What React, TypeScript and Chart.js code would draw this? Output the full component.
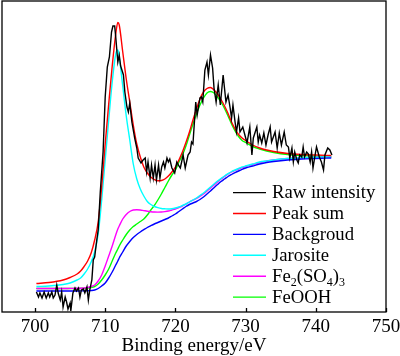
import React, { useEffect, useRef } from "react";
import { Chart, registerables } from "chart.js";

Chart.register(...registerables);

// ---------- data ----------
const xTickValues = [700, 710, 720, 730, 740, 750];
const xAxisTitle = "Binding energy/eV";
const seriesNames = ["Raw intensity", "Peak sum", "Backgroud", "Jarosite", "Fe₂(SO₄)₃", "FeOOH"];

const rawEnergy = [
  700.2, 700.5, 700.7, 701.0, 701.3, 701.6, 701.9, 702.1, 702.4, 702.6, 702.85, 703.1, 703.3, 703.6, 703.8,
  704.0, 704.3, 704.5, 704.7, 705.0, 705.1, 705.4, 705.7, 705.9, 706.2, 706.4, 706.6, 706.9, 707.1, 707.4,
  707.6, 707.8, 708.1, 708.3, 708.5, 708.8, 709.0, 709.3, 709.7, 710.0, 710.3, 710.6, 710.9, 711.1, 711.35,
  711.5, 711.8, 712.0, 712.2, 712.6, 712.8, 713.1, 713.3, 713.5, 713.8, 714.2, 714.5, 714.7, 715.1, 715.4,
  715.7, 715.9, 716.1, 716.4, 716.6, 716.85, 717.1, 717.3, 717.6, 717.8, 718.05, 718.3, 718.5, 718.8, 719.0,
  719.2, 719.5, 719.9, 720.2, 720.5, 720.7, 721.1, 721.4, 721.8, 722.1, 722.3, 722.5, 722.9, 723.1, 723.5,
  723.7, 723.9, 724.2, 724.5, 724.7, 725.0, 725.3, 725.5, 725.8, 726.1, 726.4, 726.8, 727.2, 727.5, 727.8,
  728.0, 728.2, 728.5, 728.7, 729.0, 729.2, 729.6, 729.9, 730.2, 730.6, 730.9, 731.1, 731.6, 731.8, 732.0,
  732.3, 732.6, 732.9, 733.2, 733.5, 733.7, 734.2, 734.5, 734.8, 735.1, 735.5, 735.8, 736.1, 736.3, 736.6,
  736.8, 737.0, 737.3, 737.5, 737.7, 738.0, 738.2, 738.4, 738.7, 738.95, 739.2, 739.4, 739.6, 739.9, 740.1,
  740.3, 740.5, 740.8, 741.1, 741.3, 741.7, 742.0, 742.3,
];
const rawIntensity = [
  20, 15, 19, 14, 20, 14, 19, 15, 20, 14, 17, 27, 19, 12, 20,
  5, 15, 10, 3, 9, 1, 19, 24, 21, 24, 15, 22, 23, 19, 25,
  12, 22, 32, 52, 55, 72, 82, 120, 160, 215, 245, 255, 280, 286, 286,
  275, 250, 257, 246, 237, 220, 205, 200, 209, 190, 174, 164, 154, 149, 152,
  154, 140, 150, 134, 147, 134, 147, 132, 147, 134, 145, 150, 144, 154, 150,
  153, 144, 139, 150, 146, 144, 157, 144, 157, 160, 170, 168, 210, 197, 214,
  215, 210, 242, 250, 237, 257, 244, 224, 210, 227, 207, 237, 210, 217, 204,
  194, 207, 190, 180, 194, 180, 185, 177, 169, 185, 157, 174, 185, 170, 177,
  169, 179, 167, 177, 185, 170, 180, 164, 179, 167, 180, 167, 165, 154, 164,
  150, 160, 152, 149, 157, 155, 165, 155, 160, 158, 150, 160, 144, 157, 165,
  160, 155, 150, 142, 157, 164, 162, 157,
];

const fitEnergy = [
  700.2, 702, 704, 705, 706, 706.5, 707, 707.5, 708, 708.5, 709, 709.5, 710, 710.5, 711, 711.5, 711.8, 712,
  712.5, 713, 713.5, 714, 714.5, 715, 715.5, 716, 716.5, 717, 717.5, 718, 718.5, 719, 719.5, 720, 720.5, 721,
  721.5, 722, 722.5, 723, 723.5, 724, 724.5, 725, 725.5, 726, 726.5, 727, 727.5, 728, 728.5, 729, 729.5, 730,
  731, 732, 733, 734, 736, 738, 740, 742.2,
];
const peakSum = [
  28.5, 29.5, 32, 34.5, 38, 41, 45.5, 51, 59, 72, 90, 125, 168, 208, 246, 278, 289.5, 287,
  260, 233, 210, 187, 168, 155, 145, 139, 135, 132.5, 131.2, 131.5, 133, 136, 140, 145, 152, 160,
  169.5, 180, 192, 203, 213, 220, 223.5, 224.5, 222, 218, 212.5, 206, 198.5, 190, 183, 177.5, 174, 171.5,
  167, 164, 162, 160.5, 158.5, 157.5, 157, 156.5,
];
const background = [
  21, 21, 21, 21, 21, 21.1, 21.2, 21.3, 21.5, 22, 23.5, 26, 29, 34, 40, 47, 51, 54,
  60, 66, 70.5, 74.5, 77.5, 80, 82.3, 84.5, 86.3, 88, 89.5, 91, 92.5, 94, 96, 98, 100.5, 103,
  105.5, 107.5, 109, 110.5, 112.5, 115, 118, 121, 124.3, 127.5, 130.5, 133, 135.5, 137.5, 139.3, 141, 142.6, 144,
  146, 148, 149.5, 150.5, 152, 153, 153.5, 154,
];
const jarosite = [
  25.5, 26, 27.5, 29, 32, 34, 38, 43, 50, 60, 78, 112, 152, 192, 230, 258, 262, 255,
  226, 196, 172, 148, 133, 123, 116, 110.5, 107.5, 105.5, 104.3, 103.5, 103.2, 103, 103.3, 104, 105, 106.5,
  108, 110, 112, 114, 116.5, 119, 122, 125, 128, 131, 133.5, 136, 138.3, 140.5, 142, 143.5, 145, 146,
  148, 150, 151, 152, 153.5, 154.3, 154.8, 155,
];
const fe2so43 = [
  23.5, 23.5, 23.5, 23.6, 23.7, 23.8, 24, 24.5, 25.5, 27, 31, 37, 46, 56, 66, 77, 83, 86,
  93, 97.5, 100.5, 102, 102.3, 102, 101.4, 100.8, 100.3, 100, 99.9, 100, 100.4, 101, 102, 103, 104.5, 106,
  108, 110, 111.8, 113.5, 115.7, 118, 121, 124, 127, 130, 133, 135.5, 138, 140, 141.6, 143, 144.3, 145.5,
  147.5, 149.5, 151, 152, 153.5, 154.2, 154.7, 155,
];
const feooh = [
  23.5, 23.5, 23.5, 23.5, 23.6, 23.7, 23.8, 24, 24.5, 25.5, 28, 32, 37, 43, 51, 59, 63, 66,
  72, 77.5, 82, 85.5, 88, 90.5, 93, 97, 102, 106.5, 112, 118, 124.5, 131, 137, 142, 150, 157,
  166, 177, 188, 198, 207, 214, 219, 220.5, 219, 215, 210, 203.5, 196, 188, 181, 175.5, 171.5, 169.5,
  165.5, 163, 161, 159.5, 157.5, 156.5, 155.8, 155.3,
];

// ---------- helpers ----------
const FONT = "'Liberation Serif', 'Times New Roman', serif";
const toPts = (xs: number[], ys: number[]) => xs.map((x, i) => ({ x, y: ys[i] }));
const SUB: Record<string, string> = { "₀": "0", "₁": "1", "₂": "2", "₃": "3", "₄": "4", "₅": "5", "₆": "6", "₇": "7", "₈": "8", "₉": "9" };

function drawRichLabel(ctx: CanvasRenderingContext2D, text: string, x: number, y: number, size: number) {
  let cx = x;
  for (const ch of Array.from(text)) {
    const sub = SUB[ch];
    if (sub) {
      ctx.font = `${Math.round(size * 0.66)}px ${FONT}`;
      ctx.fillText(sub, cx, y + size * 0.22);
      cx += ctx.measureText(sub).width;
    } else {
      ctx.font = `${size}px ${FONT}`;
      ctx.fillText(ch, cx, y);
      cx += ctx.measureText(ch).width;
    }
  }
}

const framePlugin = {
  id: "frameAndLegend",
  afterDraw(chart: any) {
    const { ctx, chartArea: a, scales } = chart;
    ctx.save();
    ctx.strokeStyle = "#000";
    ctx.lineWidth = 1.3;
    ctx.strokeRect(a.left, a.top, a.right - a.left, a.bottom - a.top);
    const xs = scales.x;
    ctx.beginPath();
    xTickValues.forEach((v) => {
      const px = Math.round(xs.getPixelForValue(v)) + 0.5;
      ctx.moveTo(px, a.bottom);
      ctx.lineTo(px, a.bottom - 4);
    });
    ctx.stroke();

    // legend
    const x0 = 233, x1 = 266, tx = 272, base0 = 198.3, step = 20.9;
    chart.data.datasets.forEach((ds: any, i: number) => {
      const by = base0 + i * step;
      ctx.strokeStyle = ds.borderColor;
      ctx.lineWidth = 1.4;
      ctx.beginPath();
      ctx.moveTo(x0, by - 5.7);
      ctx.lineTo(x1, by - 5.7);
      ctx.stroke();
      ctx.fillStyle = "#000";
      ctx.textBaseline = "alphabetic";
      ctx.textAlign = "left";
      drawRichLabel(ctx, ds.label, tx, by, 18.7);
    });
    ctx.restore();
  },
};

export default function App() {
  const ref = useRef<HTMLCanvasElement | null>(null);

  useEffect(() => {
    document.body.style.margin = "0";
    const canvas = ref.current;
    if (!canvas) return;
    const line = (label: string, color: string, xs: number[], ys: number[], smooth: boolean) => ({
      label,
      data: toPts(xs, ys),
      borderColor: color,
      backgroundColor: color,
      borderWidth: 1.4,
      pointRadius: 0,
      fill: false,
      tension: smooth ? 0.4 : 0,
      cubicInterpolationMode: smooth ? ("monotone" as const) : ("default" as const),
    });
    const chart = new Chart(canvas, {
      type: "line",
      data: {
        datasets: [
          line(seriesNames[0], "#000000", rawEnergy, rawIntensity, false),
          line(seriesNames[1], "#ff0000", fitEnergy, peakSum, true),
          line(seriesNames[2], "#0000ff", fitEnergy, background, true),
          line(seriesNames[3], "#00ffff", fitEnergy, jarosite, true),
          line(seriesNames[4], "#ff00ff", fitEnergy, fe2so43, true),
          line(seriesNames[5], "#00ff00", fitEnergy, feooh, true),
        ],
      },
      options: {
        animation: false,
        responsive: false,
        maintainAspectRatio: false,
        layout: { padding: { left: 2, right: 14, top: 1, bottom: 0 } },
        plugins: { legend: { display: false }, tooltip: { enabled: false } },
        scales: {
          x: {
            type: "linear",
            min: 695.3,
            max: 750,
            afterBuildTicks: (s: any) => {
              s.ticks = xTickValues.map((v) => ({ value: v }));
            },
            afterFit: (s: any) => {
              s.height = 44;
              s.paddingLeft = 0;
              s.paddingRight = 0;
            },
            grid: { display: false, drawTicks: false },
            border: { display: false },
            ticks: {
              color: "#000",
              padding: 3.5,
              autoSkip: false,
              maxRotation: 0,
              font: { family: FONT, size: 19 },
              callback: (v: any) => String(v),
            },
            title: {
              display: true,
              text: xAxisTitle,
              color: "#000",
              font: { family: FONT, size: 19 },
              padding: { top: 0, bottom: -1.5 },
            },
          },
          y: { type: "linear", display: false, min: 0, max: 311 },
        },
      },
      plugins: [framePlugin],
    });
    return () => chart.destroy();
  }, []);

  return (
    <div style={{ position: "absolute", left: 0, top: 0, width: 400, height: 356 }}>
      <canvas ref={ref} width={400} height={356} style={{ display: "block", width: 400, height: 356 }} />
    </div>
  );
}
